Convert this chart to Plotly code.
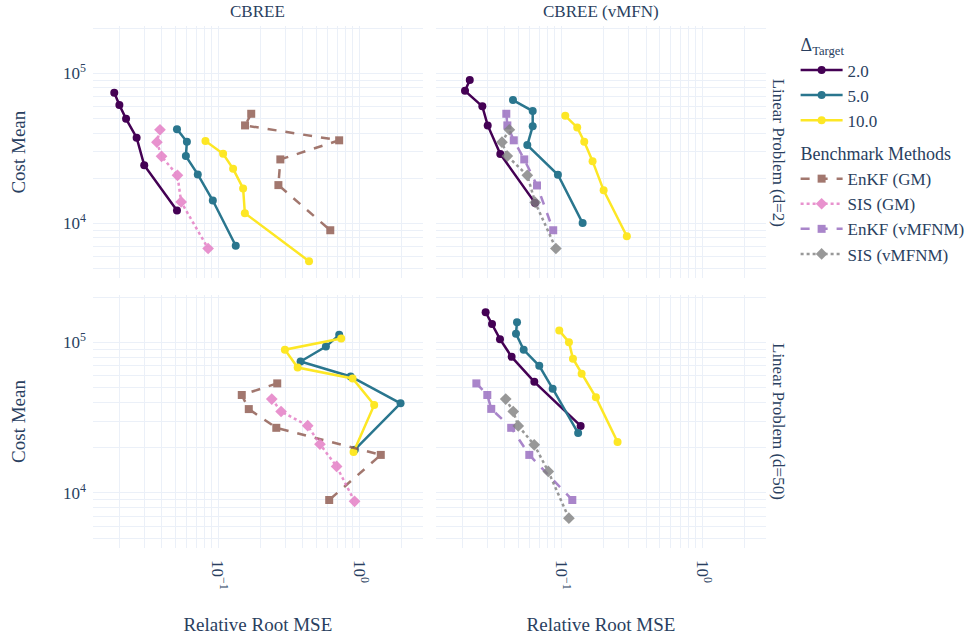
import plotly.graph_objects as go

# ---- data: relative root MSE (x) and mean cost (y) ----
# Linear Problem (d=2) / CBREE
P2_CBREE_T2_RMSE = [0.0184, 0.0200, 0.0223, 0.0265, 0.0300, 0.0512]
P2_CBREE_T2_COST = [74300, 61500, 49800, 37300, 24400, 12200]
P2_CBREE_T5_RMSE = [0.0512, 0.0602, 0.0592, 0.0719, 0.0919, 0.1336]
P2_CBREE_T5_COST = [42500, 35000, 28100, 21200, 14200, 7100]
P2_CBREE_T10_RMSE = [0.0815, 0.1087, 0.128, 0.1507, 0.155, 0.4418]
P2_CBREE_T10_COST = [35400, 29100, 23100, 17100, 11700, 5600]
P2_ENKF_GM_RMSE = [0.172, 0.1555, 0.7225, 0.2767, 0.268, 0.625]
P2_ENKF_GM_COST = [53800, 45000, 35800, 26700, 18000, 9000]
P2_SIS_GM_RMSE = [0.0388, 0.0369, 0.0398, 0.0516, 0.0548, 0.0851]
P2_SIS_GM_COST = [42100, 34800, 28000, 20900, 13900, 6800]

# Linear Problem (d=2) / CBREE (vMFN)
P2_VMFN_T2_RMSE = [0.02254, 0.02086, 0.02767, 0.0302, 0.0371, 0.0653]
P2_VMFN_T2_COST = [90200, 76500, 60300, 45000, 29000, 13700]
P2_VMFN_T5_RMSE = [0.0456, 0.0629, 0.0629, 0.0576, 0.0949, 0.142]
P2_VMFN_T5_COST = [66400, 56100, 44400, 33300, 21100, 10050]
P2_VMFN_T10_RMSE = [0.107, 0.130, 0.1458, 0.167, 0.200, 0.292]
P2_VMFN_T10_COST = [52100, 43600, 35000, 26000, 16600, 8200]
P2_ENKF_VMFNM_RMSE = [0.0409, 0.0416, 0.0462, 0.0548, 0.0675, 0.0879]
P2_ENKF_VMFNM_COST = [53800, 45000, 35800, 26700, 17900, 9000]
P2_SIS_VMFNM_RMSE = [0.0430, 0.0381, 0.0416, 0.0576, 0.0655, 0.0918]
P2_SIS_VMFNM_COST = [42100, 34800, 28100, 20900, 13800, 6800]

# Linear Problem (d=50) / CBREE
P50_CBREE_T5_RMSE = [0.723, 0.582, 0.385, 0.871, 1.968, 0.933]
P50_CBREE_T5_COST = [112500, 94000, 74800, 59500, 39400, 19400]
P50_CBREE_T10_RMSE = [0.747, 0.298, 0.367, 0.900, 1.280, 0.914]
P50_CBREE_T10_COST = [106300, 89600, 68200, 57700, 38400, 18700]
P50_ENKF_GM_RMSE = [0.263, 0.1474, 0.1653, 0.259, 1.425, 0.614]
P50_ENKF_GM_COST = [53500, 44800, 36100, 27100, 17900, 8980]
P50_SIS_GM_RMSE = [0.2405, 0.280, 0.4325, 0.528, 0.693, 0.929]
P50_SIS_GM_COST = [42100, 34800, 28000, 21100, 15000, 8800]

# Linear Problem (d=50) / CBREE (vMFN)
P50_VMFN_T2_RMSE = [0.0292, 0.0324, 0.0369, 0.0446, 0.0646, 0.1375]
P50_VMFN_T2_COST = [159000, 133000, 105300, 80300, 54800, 27900]
P50_VMFN_T5_RMSE = [0.0487, 0.0479, 0.0543, 0.0700, 0.0871, 0.132]
P50_VMFN_T5_COST = [136500, 114200, 89500, 70000, 49300, 25000]
P50_VMFN_T10_RMSE = [0.097, 0.1136, 0.1213, 0.1397, 0.1763, 0.251]
P50_VMFN_T10_COST = [120000, 100600, 78000, 62000, 43200, 21800]
P50_ENKF_VMFNM_RMSE = [0.0251, 0.0300, 0.0320, 0.0443, 0.0595, 0.120]
P50_ENKF_VMFNM_COST = [53500, 44800, 36200, 27100, 17900, 8980]
P50_SIS_VMFNM_RMSE = [0.0405, 0.0458, 0.0497, 0.0645, 0.0811, 0.1135]
P50_SIS_VMFNM_COST = [42100, 34800, 27900, 20900, 13900, 6800]

COL_TITLES = ["CBREE", "CBREE (vMFN)"]
ROW_TITLES = ["Linear Problem (d=2)", "Linear Problem (d=50)"]
TARGETS = ["2.0", "5.0", "10.0"]
BENCHMARKS = ["EnKF (GM)", "SIS (GM)", "EnKF (vMFNM)", "SIS (vMFNM)"]

# axis ticks (labelled powers of ten)
X_TICKS = [0.1, 1.0]
X_TICK_TEXT = ["10<sup>\u22121</sup>", "10<sup>0</sup>"]
Y_TICKS = [1e4, 1e5]
Y_TICK_TEXT = ["10<sup>4</sup>", "10<sup>5</sup>"]

# ---- styling ----
FONT = "Liberation Serif"
TXT = "#2a3f5f"
GRID = "#EBF0F8"
TARGET_COLORS = {"2.0": "#440154", "5.0": "#2A768E", "10.0": "#FDE725"}
BENCH_STYLE = {
    "EnKF (GM)": dict(color="#8c564b", dash="dash", symbol="square", size=8),
    "SIS (GM)": dict(color="#e377c2", dash="dot", symbol="diamond", size=9),
    "EnKF (vMFNM)": dict(color="#9467bd", dash="dash", symbol="square", size=8),
    "SIS (vMFNM)": dict(color="#7f7f7f", dash="dot", symbol="diamond", size=9),
}

# panel (row, col) -> axis ids
AX = {(1, 1): ("x", "y"), (1, 2): ("x2", "y2"), (2, 1): ("x3", "y3"), (2, 2): ("x4", "y4")}

# (row, col, kind, name, rmse, cost)
SERIES = [
    (1, 1, "target", "2.0", P2_CBREE_T2_RMSE, P2_CBREE_T2_COST),
    (1, 1, "target", "5.0", P2_CBREE_T5_RMSE, P2_CBREE_T5_COST),
    (1, 1, "target", "10.0", P2_CBREE_T10_RMSE, P2_CBREE_T10_COST),
    (1, 1, "bench", "EnKF (GM)", P2_ENKF_GM_RMSE, P2_ENKF_GM_COST),
    (1, 1, "bench", "SIS (GM)", P2_SIS_GM_RMSE, P2_SIS_GM_COST),
    (1, 2, "target", "2.0", P2_VMFN_T2_RMSE, P2_VMFN_T2_COST),
    (1, 2, "target", "5.0", P2_VMFN_T5_RMSE, P2_VMFN_T5_COST),
    (1, 2, "target", "10.0", P2_VMFN_T10_RMSE, P2_VMFN_T10_COST),
    (1, 2, "bench", "EnKF (vMFNM)", P2_ENKF_VMFNM_RMSE, P2_ENKF_VMFNM_COST),
    (1, 2, "bench", "SIS (vMFNM)", P2_SIS_VMFNM_RMSE, P2_SIS_VMFNM_COST),
    (2, 1, "target", "5.0", P50_CBREE_T5_RMSE, P50_CBREE_T5_COST),
    (2, 1, "target", "10.0", P50_CBREE_T10_RMSE, P50_CBREE_T10_COST),
    (2, 1, "bench", "EnKF (GM)", P50_ENKF_GM_RMSE, P50_ENKF_GM_COST),
    (2, 1, "bench", "SIS (GM)", P50_SIS_GM_RMSE, P50_SIS_GM_COST),
    (2, 2, "target", "2.0", P50_VMFN_T2_RMSE, P50_VMFN_T2_COST),
    (2, 2, "target", "5.0", P50_VMFN_T5_RMSE, P50_VMFN_T5_COST),
    (2, 2, "target", "10.0", P50_VMFN_T10_RMSE, P50_VMFN_T10_COST),
    (2, 2, "bench", "EnKF (vMFNM)", P50_ENKF_VMFNM_RMSE, P50_ENKF_VMFNM_COST),
    (2, 2, "bench", "SIS (vMFNM)", P50_SIS_VMFNM_RMSE, P50_SIS_VMFNM_COST),
]

fig = go.Figure()

# legend entries in a fixed order (empty traces carry the legend)
for t in TARGETS:
    fig.add_trace(go.Scatter(
        x=[None], y=[None], mode="lines+markers", name=t,
        legendgroup="target", legendgrouptitle_text="Δ<sub>Target</sub>",
        line=dict(color=TARGET_COLORS[t], width=2.5),
        marker=dict(color=TARGET_COLORS[t], size=8, symbol="circle"),
        xaxis="x", yaxis="y",
    ))
for b in BENCHMARKS:
    s = BENCH_STYLE[b]
    fig.add_trace(go.Scatter(
        x=[None], y=[None], mode="lines+markers", name=b, opacity=0.8,
        legendgroup="bench", legendgrouptitle_text="Benchmark Methods",
        line=dict(color=s["color"], width=2.5, dash=s["dash"]),
        marker=dict(color=s["color"], size=s["size"], symbol=s["symbol"]),
        xaxis="x", yaxis="y",
    ))

for row, col, kind, name, xs, ys in SERIES:
    xa, ya = AX[(row, col)]
    if kind == "target":
        c = TARGET_COLORS[name]
        fig.add_trace(go.Scatter(
            x=xs, y=ys, mode="lines+markers", name=name, showlegend=False,
            legendgroup="target",
            line=dict(color=c, width=2.5),
            marker=dict(color=c, size=8, symbol="circle"),
            xaxis=xa, yaxis=ya,
        ))
    else:
        s = BENCH_STYLE[name]
        fig.add_trace(go.Scatter(
            x=xs, y=ys, mode="lines+markers", name=name, showlegend=False,
            legendgroup="bench", opacity=0.8,
            line=dict(color=s["color"], width=2.5, dash=s["dash"]),
            marker=dict(color=s["color"], size=s["size"], symbol=s["symbol"]),
            xaxis=xa, yaxis=ya,
        ))

XRANGE = [-1.886, 0.451]
YRANGE = [3.634, 5.316]
XDOM = [[0.0, 0.4899], [0.5097, 1.0]]
YDOM = [[0.5167, 1.0], [0.0, 0.4847]]

# minor grid at 2..9 times each power of ten
X_MINOR = [k * 10.0 ** e for e in range(-2, 1) for k in range(2, 10)]
Y_MINOR = [k * 10.0 ** e for e in range(3, 6) for k in range(2, 10)]


def xaxis(col, row, anchor):
    show = row == 2
    return dict(
        type="log", range=XRANGE, domain=XDOM[col - 1], anchor=anchor,
        showgrid=True, gridcolor=GRID, gridwidth=1, zeroline=False,
        showline=False, ticks="", tickmode="array",
        tickvals=X_TICKS, ticktext=X_TICK_TEXT,
        showticklabels=show, tickangle=90, ticklabelstandoff=11,
        tickfont=dict(family=FONT, size=17, color=TXT),
        minor=dict(tickmode="array", tickvals=X_MINOR, showgrid=True,
                   gridcolor=GRID, gridwidth=1, ticks=""),
        title=dict(text="Relative Root MSE" if show else "",
                   font=dict(family=FONT, size=19, color=TXT), standoff=28),
    )


def yaxis(row, col, anchor):
    show = col == 1
    return dict(
        type="log", range=YRANGE, domain=YDOM[row - 1], anchor=anchor,
        showgrid=True, gridcolor=GRID, gridwidth=1, zeroline=False,
        showline=False, ticks="", tickmode="array",
        tickvals=Y_TICKS, ticktext=Y_TICK_TEXT,
        showticklabels=show, ticklabelstandoff=6,
        tickfont=dict(family=FONT, size=17, color=TXT),
        minor=dict(tickmode="array", tickvals=Y_MINOR, showgrid=True,
                   gridcolor=GRID, gridwidth=1, ticks=""),
        title=dict(text="Cost Mean" if show else "",
                   font=dict(family=FONT, size=19, color=TXT), standoff=32),
    )


annotations = []
for i, t in enumerate(COL_TITLES):
    d = XDOM[i]
    annotations.append(dict(
        text=t, x=(d[0] + d[1]) / 2, y=1.0, xref="paper", yref="paper",
        xanchor="center", yanchor="bottom", yshift=3, showarrow=False,
        font=dict(family=FONT, size=17, color=TXT),
    ))
for i, t in enumerate(ROW_TITLES):
    d = YDOM[i]
    annotations.append(dict(
        text=t, x=1.0, y=(d[0] + d[1]) / 2, xref="paper", yref="paper",
        xanchor="left", yanchor="middle", xshift=1, textangle=90, showarrow=False,
        font=dict(family=FONT, size=17, color=TXT),
    ))

fig.update_layout(
    width=967, height=635,
    margin=dict(l=93, r=201, t=26, b=87, autoexpand=False),
    paper_bgcolor="white", plot_bgcolor="white",
    font=dict(family=FONT, size=17, color=TXT),
    xaxis=xaxis(1, 1, "y"), xaxis2=xaxis(2, 1, "y2"),
    xaxis3=xaxis(1, 2, "y3"), xaxis4=xaxis(2, 2, "y4"),
    yaxis=yaxis(1, 1, "x"), yaxis2=yaxis(1, 2, "x2"),
    yaxis3=yaxis(2, 1, "x3"), yaxis4=yaxis(2, 2, "x4"),
    annotations=annotations,
    legend=dict(
        x=1.044, y=1.0, xanchor="left", yanchor="top",
        tracegroupgap=7, traceorder="grouped", itemwidth=42,
        font=dict(family=FONT, size=17, color=TXT),
        grouptitlefont=dict(family=FONT, size=18, color=TXT),
        bgcolor="rgba(0,0,0,0)",
    ),
    showlegend=True,
)

fig.write_html("out.html")
